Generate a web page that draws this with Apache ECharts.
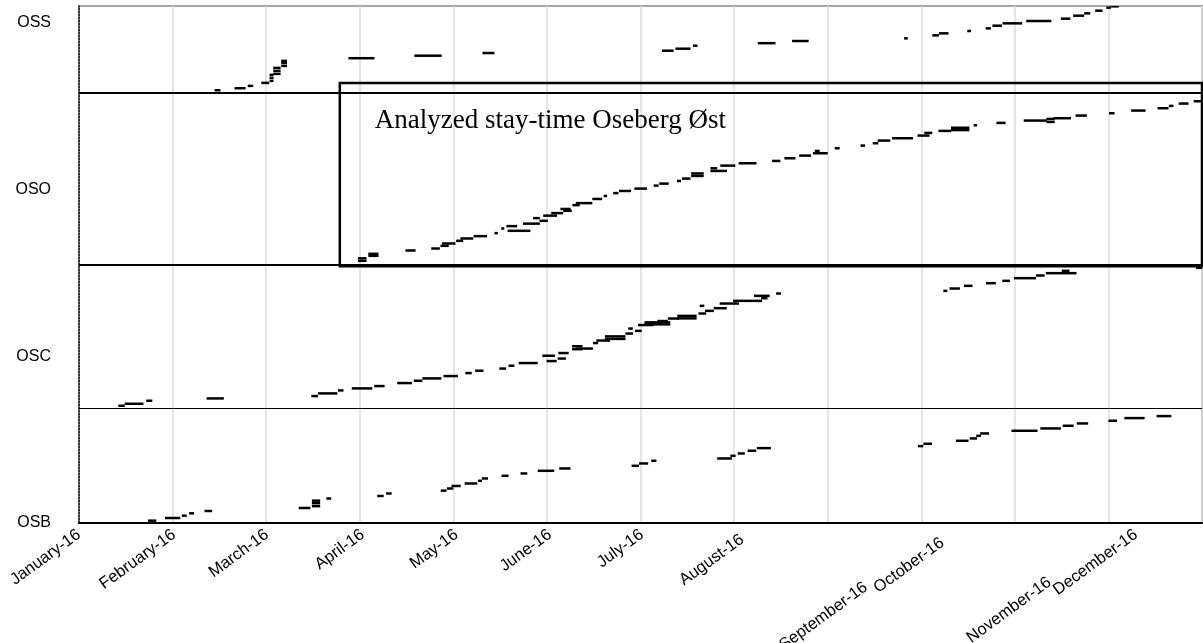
<!DOCTYPE html>
<html><head><meta charset="utf-8">
<script src="https://cdn.jsdelivr.net/npm/echarts@6/dist/echarts.min.js"></script>
<style>html,body{margin:0;padding:0;background:#fff}#c{width:1203px;height:643px}</style>
</head><body><div id="c"></div>
<script>
// x axis: days since 1 January 2016; y axis: stacking level (0 = OSB ... 3 = OSS)
const monthLabels = ['January-16','February-16','March-16','April-16','May-16','June-16','July-16','August-16','September-16','October-16','November-16','December-16'];
const terminalLabels = ['OSB','OSC','OSO','OSS'];

// each stay: [arrival day, departure day, level]
const ossStays = [[44.2,46.1,2.595],[50.7,54.3,2.607],[55.0,56.8,2.621],[59.4,62.0,2.639],[62.1,63.4,2.651],[62.1,63.4,2.669],[62.1,63.4,2.687],[63.3,65.7,2.693],[63.3,65.7,2.711],[63.3,65.7,2.729],[65.9,67.8,2.741],[65.9,67.8,2.759],[65.9,67.8,2.771],[87.8,96.3,2.787],[109.3,118.2,2.802],[131.5,135.4,2.818],[190.0,193.8,2.832],[194.4,199.3,2.844],[200.1,201.6,2.862],[221.2,227.0,2.877],[232.4,237.8,2.890],[268.9,270.1,2.906],[278.1,280.3,2.924],[280.3,283.4,2.936],[289.5,290.7,2.950],[295.5,297.2,2.966],[297.7,300.8,2.982],[301.0,307.4,2.996],[308.7,316.9,3.010],[320.0,323.1,3.024],[324.0,327.6,3.042],[327.6,329.6,3.056],[331.2,333.6,3.072],[334.8,336.3,3.090],[336.3,338.9,3.098]];
const osoStays = [[90.9,93.7,1.572],[90.9,93.7,1.587],[94.3,97.6,1.602],[94.3,97.6,1.614],[106.4,109.7,1.634],[114.8,117.6,1.646],[117.8,120.5,1.662],[118.3,122.7,1.676],[122.9,125.2,1.692],[124.3,128.5,1.706],[128.6,133.0,1.720],[135.4,136.5,1.738],[137.6,138.6,1.766],[139.3,142.8,1.780],[139.7,147.1,1.752],[144.7,150.2,1.795],[148.0,150.2,1.828],[150.1,152.8,1.812],[151.3,155.8,1.843],[153.9,157.8,1.858],[156.9,160.2,1.883],[157.8,160.6,1.872],[160.8,163.2,1.906],[161.9,167.3,1.918],[167.3,170.5,1.943],[171.0,172.1,1.961],[174.1,175.8,1.978],[176.0,179.9,1.991],[181.0,185.1,2.005],[187.3,188.9,2.023],[189.1,192.2,2.035],[194.9,196.2,2.051],[196.5,199.3,2.065],[199.5,203.6,2.081],[199.5,203.6,2.096],[205.8,208.0,2.127],[205.8,211.2,2.111],[209.0,213.9,2.143],[215.0,220.8,2.157],[225.9,228.6,2.171],[229.9,233.5,2.187],[234.7,238.6,2.203],[239.8,241.4,2.231],[239.2,244.0,2.217],[246.3,247.9,2.247],[254.7,256.2,2.263],[258.7,260.5,2.277],[260.3,264.4,2.293],[265.0,271.8,2.307],[273.3,277.2,2.323],[275.5,278.1,2.339],[280.1,284.2,2.351],[284.2,290.2,2.356],[284.2,290.2,2.370],[291.6,292.7,2.385],[299.0,302.0,2.399],[307.9,315.5,2.413],[315.3,318.0,2.405],[315.3,318.0,2.423],[317.6,323.3,2.427],[324.8,328.5,2.443],[335.7,337.5,2.457],[342.9,347.6,2.473],[351.5,355.1,2.487],[355.2,356.7,2.501],[358.4,361.6,2.515],[363.3,366.0,2.529]];
const oscStays = [[12.8,14.9,0.703],[14.9,21.0,0.715],[21.9,23.9,0.733],[41.6,47.2,0.747],[75.7,77.9,0.761],[77.9,84.2,0.777],[84.4,86.2,0.795],[88.9,95.6,0.807],[96.2,99.6,0.821],[103.7,108.5,0.839],[109.1,111.9,0.853],[111.9,118.1,0.867],[118.8,123.5,0.881],[125.9,128.0,0.899],[129.1,131.8,0.913],[137.0,139.2,0.926],[140.0,141.9,0.943],[143.3,149.5,0.959],[151.0,155.1,1.003],[152.4,155.7,0.971],[156.2,159.6,1.019],[156.0,158.7,0.986],[160.7,164.1,1.042],[160.7,164.1,1.060],[161.9,167.5,1.046],[167.5,169.2,1.079],[168.6,173.1,1.094],[171.4,178.1,1.104],[171.4,178.1,1.119],[178.1,180.6,1.136],[179.0,180.5,1.166],[181.2,183.4,1.152],[182.2,187.2,1.187],[184.3,192.7,1.191],[184.3,192.7,1.203],[188.5,191.9,1.211],[191.9,195.6,1.226],[195.0,201.3,1.227],[195.0,201.3,1.242],[201.9,204.4,1.256],[202.3,203.8,1.302],[204.0,206.9,1.272],[206.9,211.1,1.288],[208.8,215.1,1.316],[213.2,222.6,1.332],[220.0,225.1,1.362],[222.3,224.4,1.348],[227.2,228.8,1.376],[281.7,283.0,1.392],[283.7,287.1,1.406],[288.4,291.2,1.422],[295.6,298.8,1.438],[300.9,303.4,1.452],[304.7,311.9,1.468],[311.9,314.7,1.484],[315.1,325.1,1.498],[320.3,322.8,1.512],[364.1,366.0,1.530]];
const osbStays = [[22.5,25.2,0.014],[28.0,33.0,0.030],[33.5,35.1,0.044],[35.9,37.5,0.058],[40.9,43.4,0.072],[71.6,75.4,0.090],[75.9,78.6,0.101],[75.9,78.6,0.119],[75.9,78.6,0.134],[80.6,82.2,0.147],[97.2,99.3,0.162],[100.1,101.9,0.177],[117.9,119.8,0.194],[119.9,122.0,0.207],[121.4,124.4,0.222],[125.7,129.8,0.237],[130.0,131.3,0.253],[131.3,133.3,0.267],[137.7,140.0,0.283],[143.9,146.1,0.297],[149.5,154.9,0.313],[156.5,160.2,0.327],[180.1,182.5,0.343],[182.5,185.5,0.357],[186.5,188.2,0.373],[208.0,212.8,0.387],[212.3,214.0,0.403],[214.7,217.0,0.417],[217.9,220.7,0.433],[220.9,225.5,0.449],[273.4,275.2,0.461],[275.2,278.0,0.475],[285.8,289.9,0.493],[290.3,292.7,0.507],[292.4,294.0,0.523],[293.7,296.6,0.537],[303.9,312.4,0.553],[313.3,320.0,0.567],[320.6,324.2,0.583],[325.2,328.9,0.597],[335.5,338.3,0.613],[340.7,347.3,0.629],[351.2,356.0,0.641]];

const separatorLevels = [0.69, 1.555, 2.58];
const analyzedBox = [85.0, 366.0, 1.539, 2.638]; // fromDay, toDay, lowLevel, highLevel
const analyzedLabel = 'Analyzed stay-time Oseberg Øst';

const DAY_MAX = 366, MONTH_STEP = 30.5;
// label placement quirks seen in the reference: nudge along the axis (days) and drop below it (px)
const labelNudge = [0, 0.5, 0.3, 1, 1, 1, 0.5, 1.5, 0, 5, 0, 9];
const labelDrop = [0, 0, 0, 0, 0, 0, 0, 12, 130, 20, 118, 0];
const labelValues = monthLabels.map((m, i) => i * MONTH_STEP + labelNudge[i]);

function labelIndex(v) {
  let best = -1, bd = 1e9;
  labelValues.forEach((lv, i) => { const d = Math.abs(lv - v); if (d < bd) { bd = d; best = i; } });
  return bd < 1 ? best : -1;
}

function renderStay(params, api) {
  const s = api.coord([api.value(0), api.value(2)]);
  const e = api.coord([api.value(1), api.value(2)]);
  const h = 2.5;
  return { type: 'rect', shape: { x: s[0], y: s[1] - h / 2, width: Math.max(e[0] - s[0], 2.5), height: h }, style: { fill: '#000' } };
}
function renderBox(params, api) {
  const tl = api.coord([api.value(0), api.value(3)]);
  const br = api.coord([api.value(1), api.value(2)]);
  return { type: 'group', children: [
    { type: 'rect', shape: { x: tl[0], y: tl[1], width: br[0] - tl[0], height: br[1] - tl[1] }, style: { fill: 'none', stroke: '#000', lineWidth: 2.5 } },
    { type: 'text', x: tl[0] + 35, y: tl[1] + 38, style: { text: analyzedLabel, fontFamily: '"Liberation Serif", "Times New Roman", serif', fontSize: 27, fill: '#000', align: 'left', verticalAlign: 'middle' } }
  ] };
}
function staySeries(name, data) {
  return { name, type: 'custom', renderItem: renderStay, data, encode: { x: [0, 1], y: 2 }, clip: true, z: 3 };
}

const chart = echarts.init(document.getElementById('c'), null, { renderer: 'canvas' });
const series = [
  staySeries('OSS', ossStays),
  staySeries('OSO', osoStays),
  staySeries('OSC', oscStays),
  staySeries('OSB', osbStays),
  { name: 'box', type: 'custom', renderItem: renderBox, data: [analyzedBox], encode: { x: [0, 1], y: [2, 3] }, clip: false, z: 4,
    markLine: { silent: true, symbol: ['none', 'none'], label: { show: false }, animation: false,
      lineStyle: { color: '#000', type: 'solid', width: 2 },
      data: separatorLevels.map((v, i) => ({ yAxis: v, lineStyle: { width: i === 0 ? 1.2 : 2 } })) } }
];

const labelFont = '"Liberation Sans", Arial, sans-serif';
const labelSize = 16.5;
const richLabels = {};
labelDrop.forEach((d, i) => { richLabels['m' + i] = { padding: [d, 0, 0, 0], fontSize: labelSize, color: '#000', fontFamily: labelFont }; });

chart.setOption({
  animation: false,
  backgroundColor: '#fff',
  grid: { left: 79, right: 1, top: 6, bottom: 120, containLabel: false, outerBoundsMode: 'none', show: true, borderColor: '#8a8a8a', borderWidth: 1.5 },
  xAxis: {
    type: 'value', min: 0, max: DAY_MAX, interval: MONTH_STEP,
    axisLine: { show: true, onZero: false, lineStyle: { color: '#000', width: 2 } },
    axisTick: { show: false },
    splitLine: { show: true, lineStyle: { color: '#dcdcdc', width: 1.5 } },
    axisLabel: {
      // the trailing axis-end value carries an empty label so no month label is treated as the max label
      customValues: labelValues.concat([DAY_MAX]), hideOverlap: false,
      rotate: 36, margin: 10, color: '#000', fontSize: labelSize, fontFamily: labelFont,
      formatter: v => {
        const i = labelIndex(v);
        if (i < 0) return '';
        return labelDrop[i] ? '{m' + i + '|' + monthLabels[i] + '}' : monthLabels[i];
      },
      rich: richLabels
    }
  },
  yAxis: {
    type: 'value', min: 0, max: 3.1, interval: 1,
    axisLine: { show: true, lineStyle: { color: '#000', width: 1.5, type: 'dotted' } },
    axisTick: { show: false },
    splitLine: { show: false },
    axisLabel: {
      margin: 28, color: '#000', fontSize: 16, fontFamily: labelFont, hideOverlap: false,
      formatter: v => (Math.abs(v - Math.round(v)) < 1e-6 && terminalLabels[Math.round(v)]) ? terminalLabels[Math.round(v)] : ''
    }
  },
  series
});
</script></body></html>
